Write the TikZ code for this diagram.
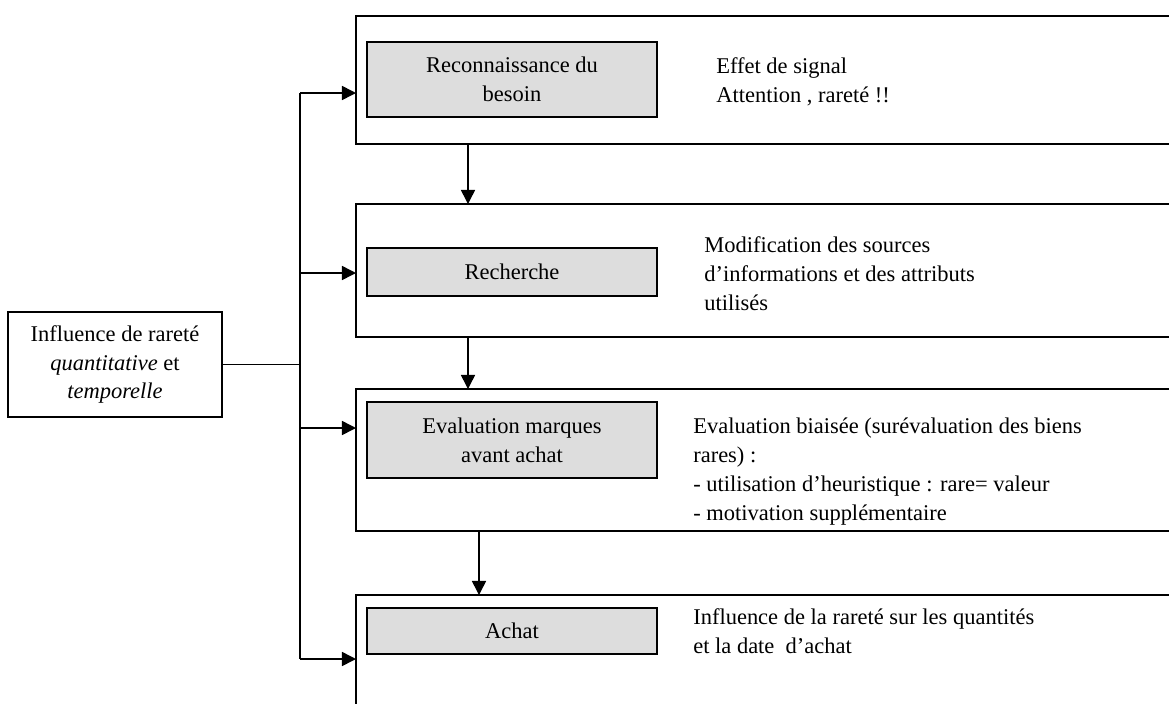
\documentclass[tikz,border=0pt]{standalone}
\usepackage{fontspec}
\setmainfont{Liberation Serif}
\usetikzlibrary{positioning,arrows.meta}
\definecolor{grisclair}{RGB}{221,221,221}
\begin{document}
\begin{tikzpicture}[font=\fontsize{16}{20.5}\selectfont,
                    etape/.style={draw,line width=1.3pt,minimum width=21cm,anchor=north west,outer sep=0pt,inner sep=0pt},
                    grisbox/.style={draw,line width=1.3pt,fill=grisclair,minimum width=7.25cm,align=center,outer sep=0pt,inner sep=0pt},
                    desc/.style={align=left,anchor=base west,inner sep=0pt},
                    arr/.style={-{Triangle[length=10pt,width=10pt]},line width=1.1pt}]
                        \useasboundingbox (0,0) rectangle (29.225,-17.6);
                        \clip (0,0) rectangle (29.225,-17.6);
                        \node[etape, minimum height=3.2cm] (besoin) at (8.9,-0.4) {};
                        \node[etape, minimum height=3.325cm, below=1.5cm of besoin.south west, anchor=north west] (recherche) {};
                        \node[etape, minimum height=3.55cm, below=1.3cm of recherche.south west, anchor=north west] (evaluation) {};
                        \node[etape, minimum height=4cm, below=1.6cm of evaluation.south west, anchor=north west] (achat) {};
                        \node[grisbox, minimum height=1.875cm, below right=0.65cm and 0.275cm of besoin.north west, anchor=north west] (g_besoin) {Reconnaissance du\\besoin};
                        \node[grisbox, minimum height=1.2cm, below right=1.1cm and 0.275cm of recherche.north west, anchor=north west] (g_recherche) {Recherche};
                        \node[grisbox, minimum height=1.9cm, below right=0.325cm and 0.275cm of evaluation.north west, anchor=north west] (g_evaluation) {Evaluation marques\\avant achat};
                        \node[grisbox, minimum height=1.15cm, below right=0.325cm and 0.275cm of achat.north west, anchor=north west] (g_achat) {Achat};
                        \node[desc] (d_besoin) at (17.9,-2.55) {Effet de signal\\Attention , raret\'e !!};
                        \node[desc] (d_recherche) at (17.6,-7.75) {Modification des sources\\d’informations et des attributs\\utilisés};
                        \node[desc] (d_evaluation) at (17.325,-13.0) {Evaluation biaisée (surévaluation des biens\\rares) :\\- utilisation d’heuristique : rare= valeur\\- motivation supplémentaire};
                        \node[desc] (d_achat) at (17.325,-16.325) {Influence de la rareté sur les quantités\\et la date~~d’achat};
                        \node[draw, line width=1.3pt, minimum width=5.35cm, minimum height=2.625cm, align=center, inner sep=0pt] (infl) at (2.875,-9.1125) {Influence de raret\'e\\\textit{quantitative} et\\\textit{temporelle}};
                        \coordinate (t1) at (7.5,-2.325);
                        \coordinate (t2) at (7.5,-6.825);
                        \coordinate (t3) at (7.5,-10.7);
                        \coordinate (t4) at (7.5,-16.475);
                        \draw[line width=1.1pt] (infl.east) -- (infl.east -| t1);
                        \draw[line width=1.1pt] (t1) -- (t4);
                        \draw[arr] (t1) -- (t1 -| besoin.west);
                        \draw[arr] (t2) -- (t2 -| recherche.west);
                        \draw[arr] (t3) -- (t3 -| evaluation.west);
                        \draw[arr] (t4) -- (t4 -| achat.west);
                        \draw[arr] ([xshift=2.8cm]besoin.south west) -- ([xshift=2.8cm]recherche.north west);
                        \draw[arr] ([xshift=2.8cm]recherche.south west) -- ([xshift=2.8cm]evaluation.north west);
                        \draw[arr] ([xshift=3.075cm]evaluation.south west) -- ([xshift=3.075cm]achat.north west);
                    \end{tikzpicture}
\end{document}
